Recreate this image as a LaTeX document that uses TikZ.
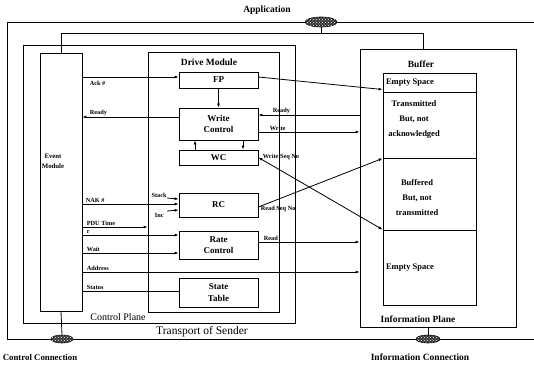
\documentclass[tikz,border=0pt]{standalone}
\usepackage{fontspec}
\setmainfont{Liberation Serif}
\usetikzlibrary{arrows.meta,shapes.geometric,patterns,calc}
\begin{document}
\begin{tikzpicture}[x=1pt,y=-1pt, line width=0.8pt,
  frame/.style={draw, rectangle, inner sep=0pt},
  box/.style={draw, rectangle, minimum width=79pt, inner sep=0pt, align=center,
              font=\fontsize{9}{11.5}\selectfont\bfseries},
  row/.style={draw, rectangle, minimum width=93pt, inner sep=0pt},
  rowtxt/.style={inner sep=1pt, align=center, font=\fontsize{8.5}{15}\selectfont\bfseries},
  arr/.style={-{Latex[length=4pt,width=3pt]}},
  lab/.style={inner sep=1pt, font=\fontsize{6.3}{7}\selectfont\bfseries},
  big/.style={inner sep=1pt, font=\fontsize{9.5}{11}\selectfont\bfseries},
  conn/.style={ellipse, draw, line width=0.6pt, fill=black!80, inner sep=0pt,
               postaction={pattern=crosshatch dots, pattern color=white}},
]
\useasboundingbox (0,0) rectangle (534,366);

% outer transport frame
\coordinate (ol) at (7,22);
\coordinate (or) at (534,22);
\coordinate (bl) at (7,339);
\coordinate (br) at (534,339);
\draw (or) -- (ol) -- (bl) -- (br);

% planes and modules
\node[frame, minimum width=272pt, minimum height=278pt] (cp) at (159,184) {};
\node[frame, minimum width=131pt, minimum height=260pt] (drv) at (213.5,182) {};
\node[frame, minimum width=156pt, minimum height=278pt] (ip) at (438,188) {};
\node[frame, minimum width=42pt, minimum height=258pt] (evm) at (61,182) {};
\node[inner sep=0pt, align=center, font=\fontsize{6.8}{10}\selectfont\bfseries] at (53,161) {Event\\Module};

\node[big] at (209,62) {Drive Module};
\node[box, minimum height=16pt] (fp) at (218.5,80) {FP};
\node[box, minimum height=32pt] (wctl) at (218.5,124) {Write\\Control};
\node[box, minimum height=15pt] (wc) at (218.5,157.5) {WC};
\node[box, minimum height=24pt] (rc) at (218.5,205) {RC};
\node[box, minimum height=28pt] (rate) at (218.5,245) {Rate\\Control};
\node[box, minimum height=29pt] (st) at (218.5,292.5) {State\\Table};

% buffer
\node[big] at (421,64) {Buffer};
\node[row, minimum height=19pt] (be1) at (429.5,82.5) {};
\node[row, minimum height=66pt] (bt) at (429.5,125) {};
\node[row, minimum height=72pt] (bb) at (429.5,194) {};
\node[row, minimum height=75pt] (be2) at (429.5,267.5) {};
\node[rowtxt, anchor=west] at ([xshift=2pt]be1.west) {Empty Space};
\node[rowtxt] at (414,119) {Transmitted\\But, not\\acknowledged};
\node[rowtxt] at (417,198) {Buffered\\But, not\\transmitted};
\node[rowtxt, anchor=west] at ([xshift=2pt]be2.west) {Empty Space};

% top connection line
\coordinate (ty) at (0,33);
\draw (evm.north) -- (evm.north |- ty) -- ([xshift=-15pt]ip.north |- ty) -- ([xshift=-15pt]ip.north);

% connection ellipses
\node[conn, minimum width=32pt, minimum height=10pt] (app) at (321,22) {};
\node[conn, minimum width=22pt, minimum height=8pt] (cc) at (62,339) {};
\node[conn, minimum width=24pt, minimum height=8pt] (ic) at (428,339) {};
\draw (app.south) -- (app.south |- ty);
\draw (evm.south) -- (cc.north);
\draw (ip.south -| ic.north) -- (ic.north);

% labels
\node[big] at (267,10) {Application};
\node[big, font=\fontsize{8.8}{11}\selectfont\bfseries] at (40,357) {Control Connection};
\node[big] at (420,357) {Information Connection};
\node[inner sep=1pt, font=\fontsize{11.5}{13}\selectfont] at (202,332) {Transport of Sender};
\node[big, font=\fontsize{10}{12}\selectfont] at (118,317) {Control Plane};
\node[big] at (418,319) {Information Plane};

% drive module internal
\draw[arr] (fp.south) -- (wctl.north);
\draw[arr] ([xshift=-23.5pt]wc.north) -- ([xshift=-23.5pt]wctl.south);
\draw[arr] ([xshift=24.5pt]wctl.south) -- ([xshift=24.5pt]wc.north);

% event module signals
\draw[arr] (evm.east |- 0,77) -- (fp.west |- 0,77);
\node[lab, anchor=north west] at ([xshift=6pt,yshift=-3pt]evm.east |- 0,77) {Ack \#};
\draw[arr] (wctl.west |- 0,117) -- (evm.east |- 0,117);
\node[lab, anchor=south west] at ([xshift=6pt]evm.east |- 0,117) {Ready};
\draw[arr] (evm.east |- 0,204) -- (rc.west |- 0,204);
\node[lab, anchor=south west] at ([xshift=2pt]evm.east |- 0,204) {NAK \#};
\coordinate (stk) at (167,198);
\coordinate (inc) at (167,211);
\draw[arr] (stk) -- (rc.west |- 0,199);
\draw[arr] (inc) -- (rc.west |- 0,210);
\node[lab, anchor=south east] at ([xshift=1pt,yshift=-1pt]stk) {Stack};
\node[lab, anchor=north east] at ([xshift=-2pt,yshift=-1pt]inc) {Inc};
\draw[arr] (evm.east |- 0,227) -- (drv.west |- 0,227);
\node[lab, anchor=south west] at ([xshift=3pt]evm.east |- 0,227) {PDU Time};
\draw[arr] (evm.east |- 0,235) -- (rate.west |- 0,235);
\node[lab, anchor=south west] at ([xshift=3pt]evm.east |- 0,235) {r};
\draw[arr] (evm.east |- 0,253) -- (rate.west |- 0,253);
\node[lab, anchor=south west] at ([xshift=3pt]evm.east |- 0,253) {Wait};
\draw[arr] (evm.east |- 0,272) -- (ip.west |- 0,272);
\node[lab, anchor=south west] at ([xshift=3pt]evm.east |- 0,272) {Address};
\draw (evm.east |- 0,291) -- (st.west |- 0,291);
\node[lab, anchor=south west] at ([xshift=3pt]evm.east |- 0,291) {Status};

% drive module to information plane
\draw[arr] (fp.east |- 0,77) -- ([yshift=-7pt]be1.west);
\draw[arr] (ip.west |- 0,115) -- (wctl.east |- 0,115);
\node[lab, anchor=south west] at ([xshift=13pt]wctl.east |- 0,115) {Ready};
\draw[arr] (wctl.east |- 0,132) -- (ip.west |- 0,132);
\node[lab, anchor=south west] at ([xshift=10pt]wctl.east |- 0,132) {Write};
\draw[{Latex[length=4pt,width=3pt]}-{Latex[length=4pt,width=3pt]}] (wc.east) -- (be2.north west);
\node[lab, anchor=west] at ([xshift=3pt,yshift=1pt]wc.east) {Write Seq No};
\draw[arr] ([yshift=-2pt]rc.east) -- (bt.south west);
\node[lab, anchor=west] at ([xshift=1pt,yshift=-4pt]rc.east) {Read Seq No};
\draw[arr] (rate.east |- 0,242) -- (ip.west |- 0,242);
\node[lab, anchor=south west] at ([xshift=4pt]rate.east |- 0,242) {Read};
\end{tikzpicture}
\end{document}
